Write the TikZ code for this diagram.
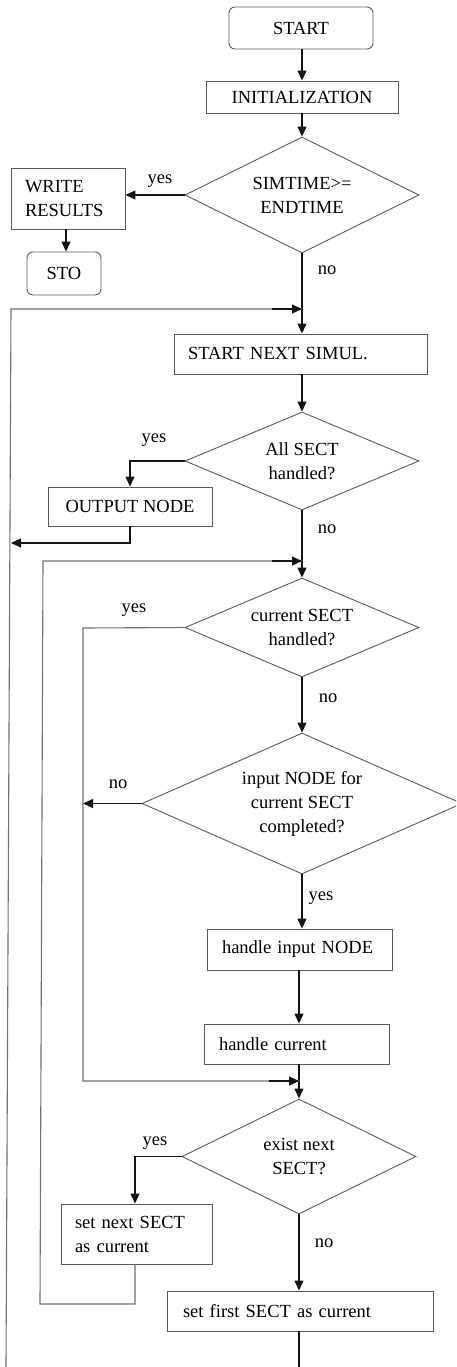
\documentclass[tikz,border=0pt]{standalone}
\usepackage{fontspec}
\setmainfont{Liberation Serif}
\usetikzlibrary{shapes.geometric,arrows.meta,calc}
\definecolor{edgegray}{HTML}{5A5A5A}
\definecolor{loopgray}{HTML}{707070}
\definecolor{ink}{HTML}{151515}
\begin{document}
\begin{tikzpicture}[x=1pt,y=-1pt,
  every node/.style={font=\fontsize{18.5}{24}\selectfont},
  box/.style={draw=edgegray,line width=0.9pt,inner sep=0pt,align=center},
  lbox/.style={draw=edgegray,line width=0.9pt,inner ysep=0pt,align=left},
  rbox/.style={box,rounded corners=6pt},
  dia/.style={draw=edgegray,line width=0.9pt,shape=diamond,inner sep=0pt,align=center},
  flow/.style={draw=ink,line width=1.2pt,-{Triangle[length=10pt,width=9pt]}},
  plain/.style={draw=ink,line width=1.2pt},
  loopline/.style={draw=loopgray,line width=1.1pt},
  lab/.style={inner sep=0pt}]
\clip (0,0) rectangle (456,1367);
\useasboundingbox (0,0) rectangle (456,1367);

% ---- boxes and decisions ----
\node[rbox,minimum width=144pt,minimum height=42pt] (start) at (301,28) {START};
\node[box,minimum width=192pt,minimum height=32pt] (init) at (302,97) {INITIALIZATION};
\node[dia,aspect=2.02,minimum width=234pt,minimum height=116pt] (d1) at (302,195) {SIMTIME>=\\ENDTIME};
\node[lbox,text width=86pt,inner xsep=14pt,minimum height=61pt] (write) at (68,198.5) {WRITE\\RESULTS};
\node[rbox,minimum width=74pt,minimum height=43pt] (sto) at (64,273.5) {STO};
\node[lbox,text width=225pt,inner xsep=14pt,minimum height=40pt] (sim) at (300.5,354) {START NEXT SIMUL.};
\node[dia,aspect=2.39,minimum width=234pt,minimum height=98pt] (d2) at (302,461) {All SECT\\handled?};
\node[box,minimum width=164pt,minimum height=39pt] (out) at (130,506.5) {OUTPUT NODE};
\node[dia,aspect=2.36,minimum width=234pt,minimum height=99pt] (d3) at (302,627.5) {current SECT\\handled?};
\node[dia,aspect=2.27,minimum width=320pt,minimum height=141pt] (d4) at (302,803.5) {input NODE for\\current SECT\\completed?};
\node[lbox,text width=155pt,inner xsep=15pt,minimum height=41pt] (hin) at (299.5,949.5) {handle input NODE};
\node[lbox,text width=155pt,inner xsep=15pt,minimum height=40pt] (hcur) at (296.5,1044) {handle current};
\node[dia,aspect=2.03,minimum width=234pt,minimum height=115pt] (d5) at (299,1156.5) {exist next\\SECT?};
\node[lbox,text width=123pt,inner xsep=14pt,minimum height=60pt] (snext) at (136.5,1234) {set next SECT\\as current};
\node[lbox,text width=234pt,inner xsep=16pt,minimum height=40pt] (sfirst) at (300,1311) {set first SECT as current};

% ---- junction points of the loops ----
\coordinate (outbot) at (6,1367);
\coordinate (outtop) at (11,309);
\coordinate (j1) at (302,309);
\coordinate (j2) at (11,543);
\coordinate (inbot) at (40,1304);
\coordinate (intop) at (43,561);
\coordinate (j3) at (302,561);
\coordinate (sk) at (83,628);
\coordinate (skbot) at (83,1081);
\coordinate (j4) at (299,1081);
\coordinate (endline) at (299,1367);

% ---- main column ----
\draw[flow] (start.south -| d1.north) -- (init.north -| d1.north);
\draw[flow] (init.south -| d1.north) -- (d1.north);
\draw[flow] (d1.west) -- (write.east |- d1.west);
\draw[flow] (66,229) -- (sto.north -| 66,0);
\draw[flow] (d1.south) -- (sim.north -| d1.south);
\draw[flow] (sim.south -| d2.north) -- (d2.north);
\draw[flow] (d2.west) -| (out.north);
\draw[flow] (out.south) |- (j2);
\draw[flow] (d2.south) -- (d3.north);
\draw[flow] (d3.south) -- (d4.north);
\draw[flow] (d4.west) -- (sk |- d4.west);
\draw[flow] (d4.south) -- (hin.north -| d4.south);
\draw[flow] (hin.south -| d5.north) -- (hcur.north -| d5.north);
\draw[flow] (hcur.south -| d5.north) -- (d5.north);
\draw[flow] (d5.west) -| (snext.north -| 135,0);
\draw[flow] (d5.south) -- (sfirst.north -| d5.south);
\draw[plain] (sfirst.south -| d5.south) -- (endline);

% ---- loop-back lines ----
\draw[loopline] (outbot) -- (outtop) -- (j1);
\draw[flow] ($(j1)+(-30,0)$) -- (j1);
\draw[loopline] (snext.south -| 135,0) |- (inbot) -- (intop) -- (j3);
\draw[flow] ($(j3)+(-30,0)$) -- (j3);
\draw[loopline] (d3.west) -- (sk) -- (skbot) -- (j4);
\draw[flow] ($(j4)+(-30,0)$) -- (j4);

% ---- branch labels ----
\node[lab] (l1) at (160,181) {yes};
\node[lab] (l2) at (327,270.5) {no};
\node[lab] (l3) at (154,440) {yes};
\node[lab] (l4) at (327,529) {no};
\node[lab] (l5) at (134,610) {yes};
\node[lab] (l6) at (328,698) {no};
\node[lab] (l7) at (118,784) {no};
\node[lab] (l8) at (321,898) {yes};
\node[lab] (l9) at (155,1143) {yes};
\node[lab] (l10) at (324,1243) {no};
\end{tikzpicture}
\end{document}
